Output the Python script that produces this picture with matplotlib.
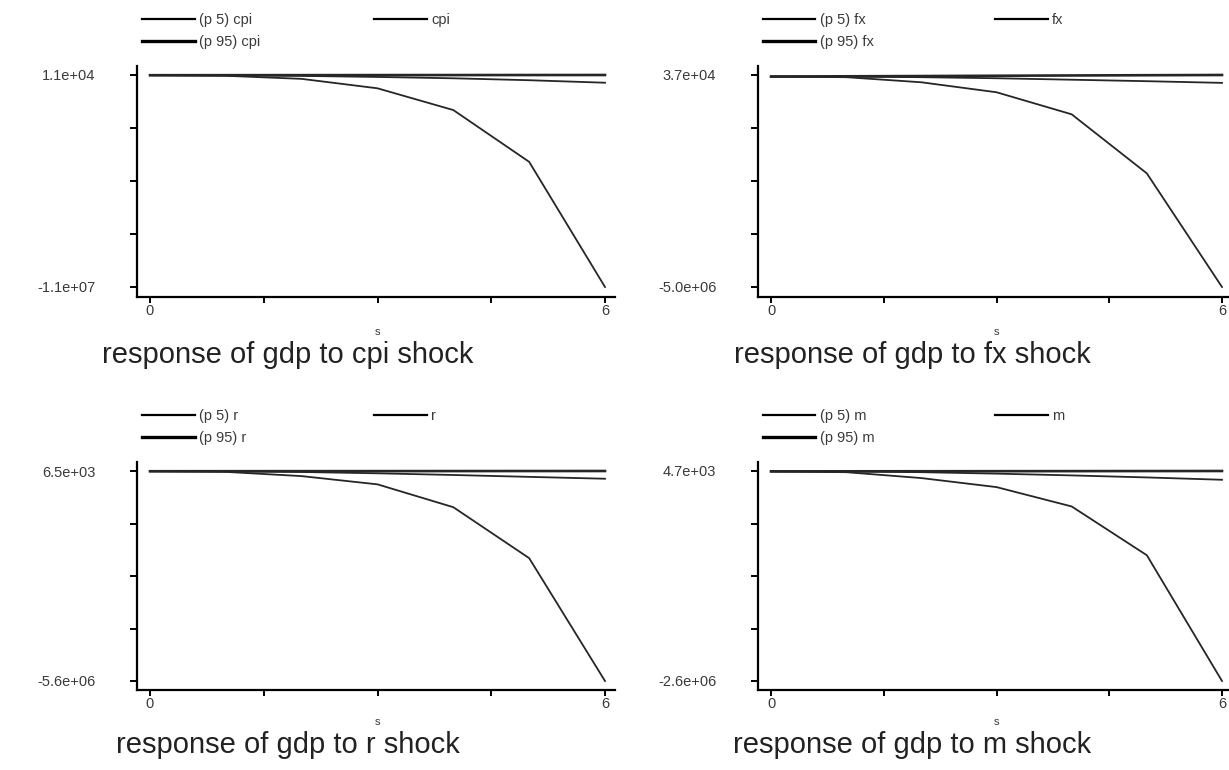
import numpy as np
import matplotlib
matplotlib.use("Agg")
import matplotlib.pyplot as plt
from matplotlib.lines import Line2D

plt.rcParams['font.family'] = ['Liberation Sans', 'DejaVu Sans']

# horizon steps
steps = [0, 1, 2, 3, 4, 5, 6]

# response of gdp to cpi shock
p5_cpi = [0, -3.0e4, -1.9e5, -6.8e5, -1.81e6, -4.5e6, -1.1e7]
est_cpi = [0, -2.0e3, -3.5e4, -9.0e4, -1.6e5, -2.6e5, -3.9e5]
p95_cpi = [0, 2.0e3, 4.0e3, 6.0e3, 8.0e3, 9.5e3, 1.1e4]

# response of gdp to fx shock
p5_fx = [0, -1.5e4, -1.36e5, -3.73e5, -8.97e5, -2.30e6, -5.0e6]
est_fx = [0, -1.0e3, -1.5e4, -4.0e4, -7.5e4, -1.1e5, -1.5e5]
p95_fx = [0, 6.0e3, 1.2e4, 1.9e4, 2.6e4, 3.2e4, 3.7e4]

# response of gdp to r shock
p5_r = [0, -1.7e4, -1.3e5, -3.5e5, -9.6e5, -2.32e6, -5.6e6]
est_r = [0, -1.0e3, -2.0e4, -5.5e4, -1.0e5, -1.5e5, -2.0e5]
p95_r = [0, 1.0e3, 2.2e3, 3.4e3, 4.6e3, 5.6e3, 6.5e3]

# response of gdp to m shock
p5_m = [0, -1.0e4, -8.3e4, -1.95e5, -4.35e5, -1.04e6, -2.6e6]
est_m = [0, -5.0e2, -1.0e4, -2.8e4, -5.0e4, -7.5e4, -1.04e5]
p95_m = [0, 8.0e2, 1.6e3, 2.4e3, 3.2e3, 4.0e3, 4.7e3]

shocks = ["cpi", "fx", "r", "m"]
series = {
    "cpi": (p5_cpi, est_cpi, p95_cpi),
    "fx": (p5_fx, est_fx, p95_fx),
    "r": (p5_r, est_r, p95_r),
    "m": (p5_m, est_m, p95_m),
}

W, H = 1229, 770
fig = plt.figure(figsize=(W / 100, H / 100), dpi=100)

# pixel layout: (spine_left, x0, x6, right) and (top, ytop, ybot, spine_bottom)
cols = [(137, 150, 605, 615), (758, 771, 1222, 1232)]
rows = [(66, 75, 287, 297), (462, 471, 681, 690)]
title_x = [288, 912]
title_y = [355, 745]
leg_y = [22, 418]   # centre of first legend row

line_col = "#262626"
lw_p5, lw_est, lw_p95 = 1.3, 1.3, 1.9

for i, shock in enumerate(shocks):
    r, c = divmod(i, 2)
    L, x0, x6, R = cols[c]
    T, yt, yb, B = rows[r]
    ax = fig.add_axes([L / W, 1 - B / H, (R - L) / W, (B - T) / H])
    p5, est, p95 = series[shock]

    ax.plot(steps, p5, color=line_col, lw=lw_p5, clip_on=False)
    ax.plot(steps, est, color=line_col, lw=lw_est, clip_on=False)
    ax.plot(steps, p95, color=line_col, lw=lw_p95, clip_on=False)

    ymax = max(max(p5), max(est), max(p95))
    ymin = min(min(p5), min(est), min(p95))
    xs = (x6 - x0) / 6.0
    ax.set_xlim(-(x0 - L) / xs, 6 + (R - x6) / xs)
    ys = (yb - yt) / (ymax - ymin)
    ax.set_ylim(ymin - (B - yb) / ys, ymax + (yt - T) / ys)

    for s in ["top", "right"]:
        ax.spines[s].set_visible(False)
    for s in ["left", "bottom"]:
        ax.spines[s].set_linewidth(1.6)
        ax.spines[s].set_color("black")

    ax.set_xticks(np.linspace(0, 6, 5))
    ax.set_xticklabels(["0", "", "", "", "6"])
    ax.set_yticks(np.linspace(ymin, ymax, 5))
    ax.set_yticklabels(["%.1e" % ymin, "", "", "", "%.1e" % ymax])
    ax.tick_params(axis="y", length=5, width=1.4, pad=25, labelsize=10.5,
                   labelcolor="#3a3a3a")
    ax.tick_params(axis="x", length=4, width=1.4, pad=1, labelsize=10.5,
                   labelcolor="#3a3a3a")

    # axis title "s" and panel caption
    fig.text((x0 + x6) / 2 / W, 1 - (title_y[r] - 23) / H, "s",
             ha="center", va="center", fontsize=8, color="#3a3a3a")
    fig.text(title_x[c] / W, 1 - title_y[r] / H,
             "response of gdp to %s shock" % shock,
             ha="center", va="center", fontsize=21, color="#222222")

    # legends
    h5 = Line2D([], [], color="black", lw=1.6)
    h95 = Line2D([], [], color="black", lw=2.4)
    hest = Line2D([], [], color="black", lw=1.6)
    leg_top = leg_y[r] - 9
    fig.legend([h5, h95], ["(p 5) %s" % shock, "(p 95) %s" % shock],
               loc="upper left",
               bbox_to_anchor=((L + 5) / W, 1 - leg_top / H),
               frameon=False, fontsize=10.5, handlelength=3.6,
               handletextpad=0.3, borderpad=0, borderaxespad=0,
               labelspacing=0.55, labelcolor="#3a3a3a")
    fig.legend([hest], [shock], loc="upper left",
               bbox_to_anchor=((L + 237) / W, 1 - leg_top / H),
               frameon=False, fontsize=10.5, handlelength=3.6,
               handletextpad=0.3, borderpad=0, borderaxespad=0,
               labelcolor="#3a3a3a")

fig.savefig("out.png", dpi=100, facecolor="white")
